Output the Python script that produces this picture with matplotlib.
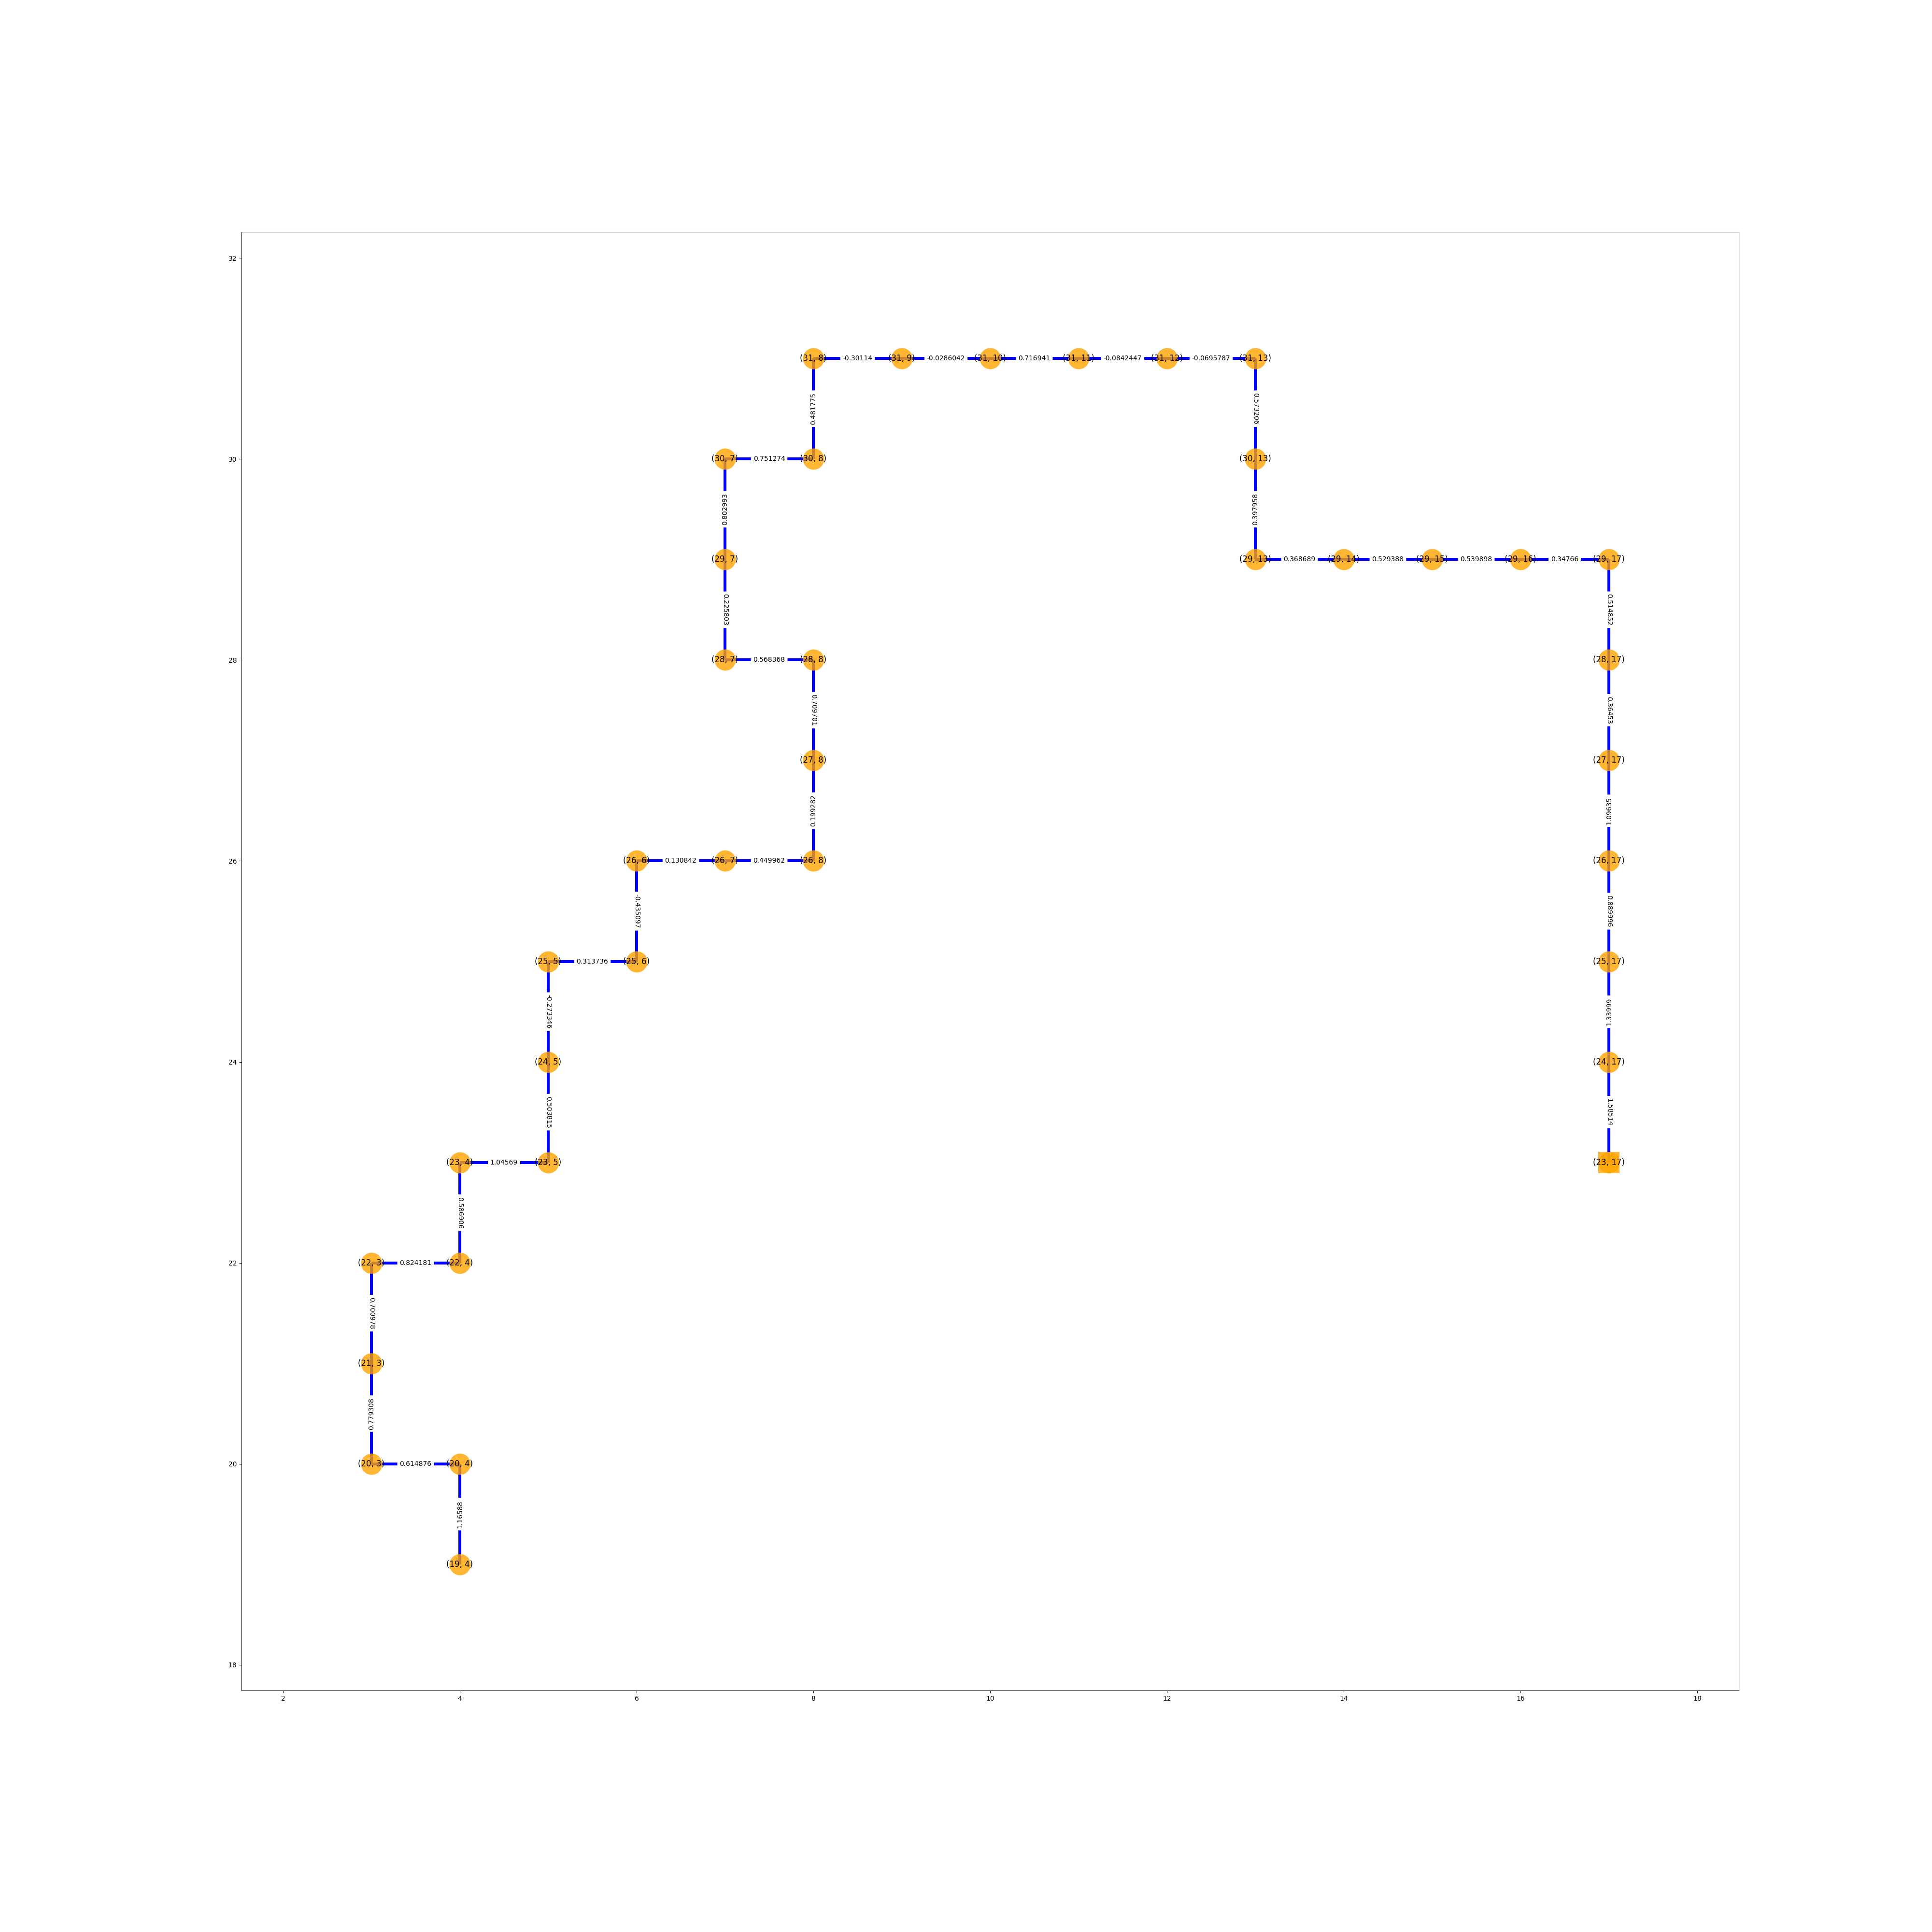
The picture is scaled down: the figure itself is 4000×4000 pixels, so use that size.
import numpy as np
import matplotlib
matplotlib.use("Agg")
import matplotlib.pyplot as plt

# path nodes as (row, col); drawn at x=col, y=row
path_nodes = [
    (19, 4), (20, 4), (20, 3), (21, 3), (22, 3), (22, 4), (23, 4), (23, 5),
    (24, 5), (25, 5), (25, 6), (26, 6), (26, 7), (26, 8), (27, 8), (28, 8),
    (28, 7), (29, 7), (30, 7), (30, 8), (31, 8), (31, 9), (31, 10), (31, 11),
    (31, 12), (31, 13), (30, 13), (29, 13), (29, 14), (29, 15), (29, 16),
    (29, 17), (28, 17), (27, 17), (26, 17), (25, 17), (24, 17), (23, 17),
]
goal_node = (23, 17)

# edges (u, v) in the order they are stored in the graph, and their weights
edges = [
    ((19, 4), (20, 4)), ((20, 4), (20, 3)), ((20, 3), (21, 3)), ((22, 3), (21, 3)),
    ((22, 3), (22, 4)), ((23, 4), (22, 4)), ((23, 4), (23, 5)), ((24, 5), (23, 5)),
    ((25, 5), (24, 5)), ((25, 5), (25, 6)), ((26, 6), (25, 6)), ((26, 6), (26, 7)),
    ((26, 7), (26, 8)), ((26, 8), (27, 8)), ((28, 8), (27, 8)), ((28, 8), (28, 7)),
    ((29, 7), (28, 7)), ((29, 7), (30, 7)), ((30, 7), (30, 8)), ((30, 8), (31, 8)),
    ((31, 8), (31, 9)), ((31, 9), (31, 10)), ((31, 10), (31, 11)), ((31, 11), (31, 12)),
    ((31, 12), (31, 13)), ((31, 13), (30, 13)), ((29, 13), (30, 13)), ((29, 13), (29, 14)),
    ((29, 14), (29, 15)), ((29, 15), (29, 16)), ((29, 16), (29, 17)), ((29, 17), (28, 17)),
    ((28, 17), (27, 17)), ((26, 17), (27, 17)), ((26, 17), (25, 17)), ((24, 17), (25, 17)),
    ((24, 17), (23, 17)),
]
weights = [
    "1.16588", "0.614876", "0.779308", "0.700978", "0.824181", "0.586906",
    "1.04569", "0.503815", "-0.273346", "0.313736", "-0.435097", "0.130842",
    "0.449962", "0.199282", "0.709701", "0.568368", "0.225803", "0.802993",
    "0.751274", "0.481775", "-0.30114", "-0.0286042", "0.716941", "-0.0842447",
    "-0.0695787", "0.573206", "0.397958", "0.368689", "0.529388", "0.539898",
    "0.34766", "0.514852", "0.36453", "1.09635", "0.889996", "1.33999", "1.58514",
]

fig = plt.figure(figsize=(40, 40), dpi=100)
ax = fig.add_axes([0.125, 0.125, 0.775, 0.755])

# edges
for (u, v) in edges:
    ax.plot([u[1], v[1]], [u[0], v[0]], color="blue", linewidth=4.3, zorder=1,
            solid_capstyle="butt")

# nodes
xs = [n[1] for n in path_nodes]
ys = [n[0] for n in path_nodes]
ax.scatter(xs, ys, s=1000, c="orange", alpha=0.8, linewidths=0, zorder=2)
ax.scatter([goal_node[1]], [goal_node[0]], s=1000, c="orange", marker="s",
           alpha=0.8, linewidths=0, zorder=2)

# node labels
for n in path_nodes:
    ax.text(n[1], n[0], "(%d, %d)" % n, fontsize=12, ha="center", va="center",
            zorder=3)

# edge labels, rotated along the edge like networkx does
for (u, v), w in zip(edges, weights):
    mx = (u[1] + v[1]) / 2
    my = (u[0] + v[0]) / 2
    ang = np.degrees(np.arctan2(v[0] - u[0], v[1] - u[1]))
    if ang > 90:
        ang -= 180
    if ang < -90:
        ang += 180
    ax.text(mx, my, w, fontsize=10, ha="center", va="center", rotation=ang,
            rotation_mode="anchor",
            bbox=dict(boxstyle="round", ec="white", fc="white"), zorder=3)

ax.set_xlim(1.53, 18.47)
ax.set_ylim(17.745, 32.26)
ax.set_xticks(range(2, 19, 2))
ax.set_yticks(range(18, 33, 2))

fig.savefig("out.png", dpi=100)
